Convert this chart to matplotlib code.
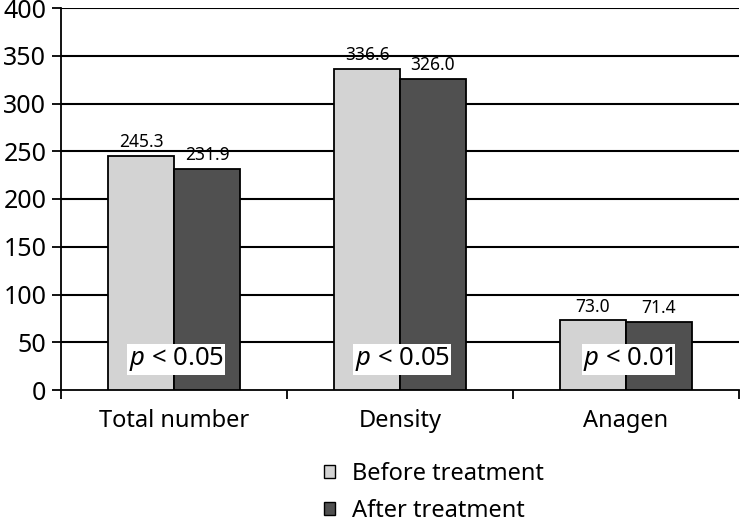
import numpy as np
import matplotlib
matplotlib.use("Agg")
from matplotlib import pyplot as plt
from matplotlib.patches import Patch

plt.rcParams['font.family'] = ['Noto Sans', 'DejaVu Sans']
plt.rcParams['mathtext.fontset'] = 'custom'
plt.rcParams['mathtext.rm'] = 'Noto Sans'
plt.rcParams['mathtext.it'] = 'Noto Sans:italic'

categories = ["Total number", "Density", "Anagen"]
before = [245.3, 336.6, 73.0]
after = [231.9, 326.0, 71.4]
p_labels = ["$p$ < 0.05", "$p$ < 0.05", "$p$ < 0.01"]
series_names = ["Before treatment", "After treatment"]
yticks = np.arange(0, 401, 50)

light = "#d3d3d3"
dark = "#505050"

fig = plt.figure(figsize=(7.41, 5.23), dpi=100)
ax = fig.add_axes([61 / 741, 133 / 523, 678 / 741, 382 / 523])

x = np.arange(len(categories)) + 0.5
w = 0.292

ax.set_xlim(0, 3)
ax.set_ylim(0, 400)

# horizontal grid lines behind the bars
ax.hlines(yticks[1:], 0, 3, colors="#000000", linewidths=1.5, zorder=2)

ax.bar(x - w / 2, before, w, color=light, edgecolor="black", linewidth=1.3, zorder=3)
ax.bar(x + w / 2, after, w, color=dark, edgecolor="black", linewidth=1.3, zorder=3)

for xi, b, a in zip(x, before, after):
    ax.text(xi - w / 2, b + 5, f"{b:.1f}", ha="center", va="bottom", fontsize=12.5)
    ax.text(xi + w / 2, a + 5, f"{a:.1f}", ha="center", va="bottom", fontsize=12.5)

for xi, lab in zip(x, p_labels):
    ax.text(xi + 0.01, 32, lab, ha="center", va="center", fontsize=18.5, zorder=5,
            bbox=dict(facecolor="white", edgecolor="none", pad=1.0))

ax.set_yticks(yticks)
ax.tick_params(axis="y", labelsize=18, length=6.5, width=1.3, pad=4)
ax.set_xticks([0, 1, 2, 3])
ax.set_xticklabels([])
ax.tick_params(axis="x", which="major", length=6.5, width=1.3)
ax.set_xticks(x, minor=True)
ax.set_xticklabels(categories, minor=True, fontsize=17)
ax.tick_params(axis="x", which="minor", length=0, pad=14)

for s in ["top", "right"]:
    ax.spines[s].set_visible(False)
for s in ["left", "bottom"]:
    ax.spines[s].set_linewidth(1.3)

handles = [Patch(facecolor=light, edgecolor="black", linewidth=1),
           Patch(facecolor=dark, edgecolor="black", linewidth=1)]
fig.legend(handles, series_names, loc="center left", bbox_to_anchor=(324 / 741, 0.058),
           frameon=False, fontsize=17, handlelength=0.45, handleheight=0.45,
           handletextpad=0.75, labelspacing=0.55, borderpad=0, borderaxespad=0)

fig.savefig("out.png", dpi=100)
